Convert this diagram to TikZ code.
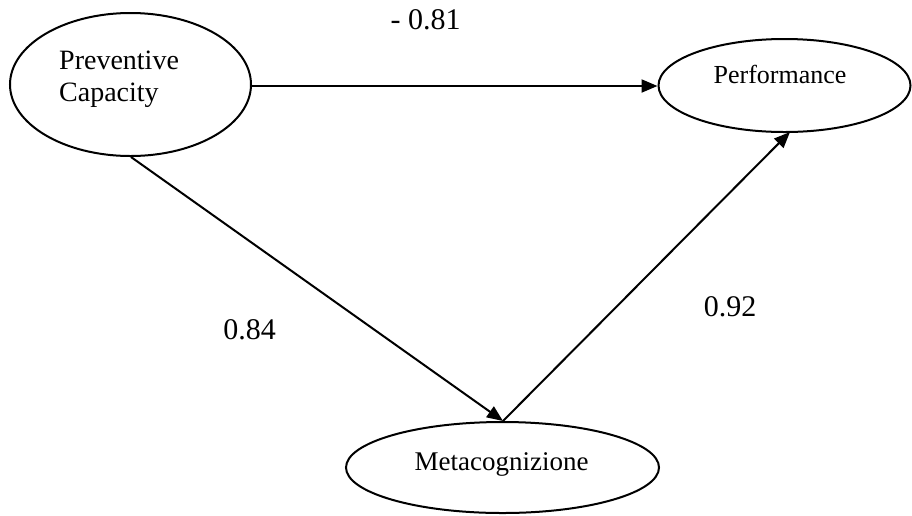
\documentclass[tikz,border=0pt]{standalone}
\usepackage{fontspec}
\setmainfont{Liberation Serif}
\usetikzlibrary{shapes.geometric,arrows.meta}
\begin{document}
\begin{tikzpicture}[x=1pt,y=-1pt,
  construct/.style={draw,ellipse,line width=2pt,inner sep=0pt},
  link/.style={line width=2pt,-{Triangle[length=16pt,width=13pt]}},
  nodetext/.style={inner sep=0pt,font=\fontsize{27}{32}\selectfont},
  coef/.style={inner sep=0pt,font=\fontsize{30}{34}\selectfont,anchor=base}]
  \useasboundingbox (0,0) rectangle (912,515);
  % latent constructs
  \node[construct,minimum width=241pt,minimum height=143pt] (pc) at (130.5,84.5) {};
  \node[construct,minimum width=252pt,minimum height=93pt] (perf) at (784.5,85.5) {};
  \node[construct,minimum width=313pt,minimum height=91pt] (meta) at (502.5,467.5) {};
  % construct names
  \node[nodetext,anchor=base west,align=left,font=\fontsize{28}{32}\selectfont] (pctext) at (59,101) {Preventive\\Capacity};
  \node[nodetext,anchor=base,font=\fontsize{26}{30}\selectfont] (perftext) at (780,83) {Performance};
  \node[nodetext,anchor=base] (metatext) at (501.5,470) {Metacognizione};
  % structural paths
  \coordinate (pcbot) at (131,157);
  \coordinate (metatop) at (503,421);
  \coordinate (perfbot) at (790,132);
  \draw[link] (pc.east |- 0,86) -- (perf.west |- 0,86);
  \draw[link] (pcbot) -- (metatop);
  \draw[link] (metatop) -- (perfbot);
  % path coefficients
  \node[coef] (c1) at (425.5,29) {- 0.81};
  \node[coef] (c2) at (249.5,339) {0.84};
  \node[coef] (c3) at (730,316) {0.92};
\end{tikzpicture}
\end{document}
